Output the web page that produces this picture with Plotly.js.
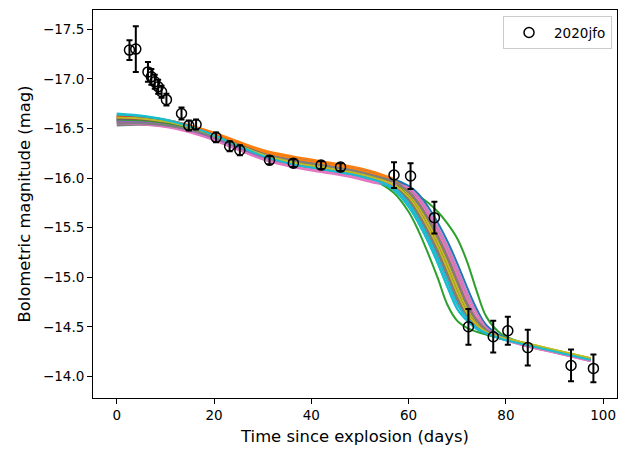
<!DOCTYPE html>
<html>
<head>
<meta charset="utf-8">
<script src="https://cdn.plot.ly/plotly-3.0.1.min.js"></script>
<style>html,body{margin:0;padding:0;background:#fff;}#chart{width:629px;height:449px;}</style>
</head>
<body>
<div id="chart"></div>
<script>
// Observed bolometric light curve of 2020jfo
const obsDays = [2.6, 3.9, 6.4, 7.1, 7.8, 8.5, 9.2, 10.2, 13.3, 14.8, 16.3, 20.4, 23.2, 25.3, 31.4, 36.3, 42.0, 46.0, 57.0, 60.4, 65.3, 72.3, 77.4, 80.4, 84.5, 93.4, 98.0];
const obsMags = [-17.29, -17.30, -17.07, -17.02, -16.97, -16.92, -16.87, -16.79, -16.65, -16.53, -16.54, -16.41, -16.32, -16.28, -16.18, -16.15, -16.13, -16.11, -16.03, -16.02, -15.60, -14.50, -14.40, -14.46, -14.29, -14.11, -14.08];
const obsErrs = [0.10, 0.23, 0.10, 0.08, 0.07, 0.07, 0.06, 0.06, 0.06, 0.05, 0.05, 0.05, 0.05, 0.05, 0.04, 0.04, 0.04, 0.04, 0.13, 0.13, 0.16, 0.18, 0.16, 0.14, 0.18, 0.16, 0.14];

// Model light curves (sampled at modelDays)
const modelDays = [0, 6, 12, 18, 24, 30, 36, 42, 48, 53, 57, 60, 62, 64, 66, 68, 70, 72, 74, 76, 79, 84, 90, 97.4];
const m0  = [-16.60, -16.588, -16.547, -16.465, -16.353, -16.242, -16.17, -16.12, -16.07, -16.01, -15.97, -15.88, -15.78, -15.63, -15.45, -15.25, -15.02, -14.78, -14.589, -14.481, -14.397, -14.329, -14.26, -14.175];
const m1  = [-16.58, -16.578, -16.547, -16.475, -16.373, -16.272, -16.21, -16.16, -16.11, -16.05, -15.99, -15.88, -15.78, -15.63, -15.45, -15.25, -15.02, -14.78, -14.589, -14.481, -14.397, -14.324, -14.255, -14.17];
const m2  = [-16.57, -16.567, -16.533, -16.46, -16.357, -16.253, -16.19, -16.14, -16.09, -16.03, -15.94, -15.88, -15.82, -15.75, -15.66, -15.54, -15.39, -15.16, -14.86, -14.60, -14.43, -14.33, -14.255, -14.17];
const m3  = [-16.63, -16.613, -16.567, -16.48, -16.363, -16.247, -16.17, -16.12, -16.07, -16.01, -15.95, -15.84, -15.71, -15.55, -15.36, -15.14, -14.90, -14.68, -14.539, -14.456, -14.39, -14.324, -14.255, -14.17];
const m4  = [-16.58, -16.568, -16.527, -16.445, -16.333, -16.222, -16.15, -16.10, -16.05, -15.99, -15.91, -15.78, -15.63, -15.45, -15.25, -15.02, -14.78, -14.612, -14.504, -14.441, -14.382, -14.324, -14.255, -14.17];
const m5  = [-16.62, -16.603, -16.557, -16.47, -16.353, -16.237, -16.16, -16.11, -16.06, -16.00, -15.945, -15.84, -15.71, -15.55, -15.36, -15.14, -14.90, -14.68, -14.539, -14.456, -14.39, -14.324, -14.255, -14.17];
const m6  = [-16.56, -16.547, -16.503, -16.42, -16.307, -16.193, -16.12, -16.07, -16.02, -15.96, -15.93, -15.88, -15.78, -15.63, -15.45, -15.25, -15.02, -14.78, -14.589, -14.475, -14.385, -14.309, -14.24, -14.155];
const m7  = [-16.54, -16.542, -16.513, -16.445, -16.347, -16.248, -16.19, -16.14, -16.09, -16.03, -15.96, -15.84, -15.71, -15.55, -15.36, -15.14, -14.90, -14.68, -14.539, -14.456, -14.39, -14.324, -14.255, -14.17];
const m8  = [-16.61, -16.595, -16.55, -16.465, -16.35, -16.235, -16.16, -16.11, -16.06, -16.00, -15.915, -15.78, -15.63, -15.45, -15.25, -15.02, -14.78, -14.612, -14.504, -14.441, -14.39, -14.336, -14.267, -14.182];
const m9  = [-16.64, -16.617, -16.563, -16.47, -16.347, -16.223, -16.14, -16.09, -16.04, -15.98, -15.88, -15.71, -15.55, -15.36, -15.14, -14.90, -14.68, -14.562, -14.479, -14.431, -14.38, -14.319, -14.25, -14.165];
const m10 = [-16.57, -16.565, -16.53, -16.455, -16.35, -16.245, -16.18, -16.13, -16.08, -16.02, -15.985, -15.92, -15.84, -15.71, -15.55, -15.36, -15.14, -14.90, -14.68, -14.516, -14.407, -14.329, -14.26, -14.175];
const m11 = [-16.60, -16.597, -16.563, -16.49, -16.387, -16.283, -16.22, -16.17, -16.12, -16.06, -15.975, -15.84, -15.71, -15.55, -15.36, -15.14, -14.90, -14.68, -14.539, -14.456, -14.39, -14.324, -14.255, -14.17];
const m12 = [-16.59, -16.573, -16.527, -16.44, -16.323, -16.207, -16.13, -16.08, -16.03, -15.97, -15.85, -15.66, -15.47, -15.24, -14.99, -14.72, -14.56, -14.49, -14.45, -14.42, -14.382, -14.324, -14.255, -14.17];
const m13 = [-16.56, -16.553, -16.517, -16.44, -16.333, -16.227, -16.16, -16.11, -16.06, -16.00, -15.915, -15.78, -15.63, -15.45, -15.25, -15.02, -14.78, -14.612, -14.504, -14.441, -14.382, -14.324, -14.255, -14.17];
const m14 = [-16.59, -16.577, -16.533, -16.45, -16.337, -16.223, -16.15, -16.10, -16.05, -15.99, -15.94, -15.84, -15.71, -15.55, -15.36, -15.14, -14.90, -14.68, -14.539, -14.456, -14.39, -14.324, -14.255, -14.17];
const m15 = [-16.61, -16.597, -16.553, -16.47, -16.357, -16.243, -16.17, -16.12, -16.07, -16.01, -15.92, -15.78, -15.63, -15.45, -15.25, -15.02, -14.78, -14.612, -14.504, -14.441, -14.382, -14.324, -14.255, -14.17];
const m16 = [-16.58, -16.562, -16.513, -16.425, -16.307, -16.188, -16.11, -16.06, -16.01, -15.95, -15.92, -15.84, -15.71, -15.55, -15.36, -15.14, -14.90, -14.68, -14.539, -14.45, -14.378, -14.309, -14.24, -14.155];
const m17 = [-16.53, -16.535, -16.51, -16.445, -16.35, -16.255, -16.20, -16.15, -16.10, -16.04, -15.935, -15.78, -15.63, -15.45, -15.25, -15.02, -14.78, -14.612, -14.504, -14.441, -14.382, -14.324, -14.255, -14.17];
const m18 = [-16.63, -16.61, -16.56, -16.47, -16.35, -16.23, -16.15, -16.10, -16.05, -15.99, -15.94, -15.84, -15.71, -15.55, -15.36, -15.14, -14.90, -14.68, -14.539, -14.456, -14.398, -14.336, -14.267, -14.182];
const m19 = [-16.65, -16.623, -16.567, -16.47, -16.343, -16.217, -16.13, -16.08, -16.03, -15.97, -15.88, -15.71, -15.55, -15.36, -15.14, -14.90, -14.68, -14.562, -14.479, -14.431, -14.38, -14.319, -14.25, -14.165];
const m20 = [-16.59, -16.582, -16.543, -16.465, -16.357, -16.248, -16.18, -16.13, -16.08, -16.02, -15.985, -15.90, -15.81, -15.67, -15.50, -15.305, -15.08, -14.84, -14.64, -14.498, -14.402, -14.324, -14.255, -14.17];
const m21 = [-16.61, -16.602, -16.563, -16.485, -16.377, -16.268, -16.20, -16.15, -16.10, -16.04, -15.975, -15.86, -15.745, -15.59, -15.405, -15.195, -14.96, -14.73, -14.564, -14.468, -14.393, -14.324, -14.255, -14.17];
const m22 = [-16.58, -16.572, -16.533, -16.455, -16.347, -16.238, -16.17, -16.12, -16.07, -16.01, -15.935, -15.81, -15.67, -15.50, -15.305, -15.08, -14.84, -14.64, -14.521, -14.448, -14.386, -14.324, -14.255, -14.17];
const m23 = [-16.62, -16.603, -16.557, -16.47, -16.353, -16.237, -16.16, -16.11, -16.06, -16.00, -15.93, -15.81, -15.67, -15.50, -15.305, -15.08, -14.84, -14.64, -14.521, -14.448, -14.386, -14.324, -14.255, -14.17];
const m24 = [-16.57, -16.558, -16.517, -16.435, -16.323, -16.212, -16.14, -16.09, -16.04, -15.98, -15.90, -15.745, -15.59, -15.405, -15.195, -14.96, -14.73, -14.587, -14.491, -14.436, -14.382, -14.324, -14.255, -14.17];
const m25 = [-16.60, -16.588, -16.547, -16.465, -16.353, -16.242, -16.17, -16.12, -16.07, -16.01, -15.96, -15.86, -15.745, -15.59, -15.405, -15.195, -14.96, -14.73, -14.564, -14.468, -14.393, -14.324, -14.255, -14.17];
const m26 = [-16.55, -16.538, -16.497, -16.415, -16.303, -16.192, -16.12, -16.07, -16.02, -15.96, -15.95, -15.90, -15.81, -15.67, -15.50, -15.305, -15.08, -14.84, -14.64, -14.49, -14.39, -14.309, -14.24, -14.155];
const m27 = [-16.55, -16.548, -16.517, -16.445, -16.343, -16.242, -16.18, -16.13, -16.08, -16.02, -15.965, -15.86, -15.745, -15.59, -15.405, -15.195, -14.96, -14.73, -14.564, -14.468, -14.393, -14.324, -14.255, -14.17];
const m28 = [-16.61, -16.595, -16.55, -16.465, -16.35, -16.235, -16.16, -16.11, -16.06, -16.00, -15.93, -15.81, -15.67, -15.50, -15.305, -15.08, -14.84, -14.64, -14.521, -14.448, -14.395, -14.336, -14.267, -14.182];
const m29 = [-16.64, -16.617, -16.563, -16.47, -16.347, -16.223, -16.14, -16.09, -16.04, -15.98, -15.90, -15.745, -15.59, -15.405, -15.195, -14.96, -14.73, -14.587, -14.491, -14.436, -14.38, -14.319, -14.25, -14.165];

const xTickVals = [0, 20, 40, 60, 80, 100];
const xTickText = ["0", "20", "40", "60", "80", "100"];
const yTickVals = [-17.5, -17.0, -16.5, -16.0, -15.5, -15.0, -14.5, -14.0];
const yTickText = ["\u221217.5", "\u221217.0", "\u221216.5", "\u221216.0", "\u221215.5", "\u221215.0", "\u221214.5", "\u221214.0"];

const palette = ["#1f77b4", "#ff7f0e", "#2ca02c", "#d62728", "#9467bd", "#8c564b", "#e377c2", "#7f7f7f", "#bcbd22", "#17becf"];
const models = [m0, m1, m2, m3, m4, m5, m6, m7, m8, m9, m10, m11, m12, m13, m14, m15, m16, m17, m18, m19,
                m20, m21, m22, m23, m24, m25, m26, m27, m28, m29];

const traces = models.map((ys, i) => ({
  x: modelDays, y: ys, type: "scatter", mode: "lines",
  line: {color: palette[i % 10], width: 2, shape: "spline"},
  showlegend: false, hoverinfo: "skip"
}));

traces.push({
  x: obsDays, y: obsMags, type: "scatter", mode: "markers", name: "2020jfo",
  marker: {symbol: "circle-open", size: 10, color: "black", line: {width: 1.5, color: "black"}},
  error_y: {type: "data", array: obsErrs, visible: true, color: "black", thickness: 2, width: 3}
});

const font = {family: "DejaVu Sans, sans-serif", color: "black"};
const layout = {
  width: 629, height: 449,
  margin: {l: 93, r: 12, t: 10, b: 51},
  paper_bgcolor: "white", plot_bgcolor: "white",
  font: Object.assign({size: 13.5}, font),
  xaxis: {
    range: [-4.9, 102.85], showgrid: false, zeroline: false,
    showline: true, mirror: true, linecolor: "black", linewidth: 1,
    ticks: "outside", ticklen: 5, tickwidth: 1, tickcolor: "black",
    tickmode: "array", tickvals: xTickVals, ticktext: xTickText,
    tickfont: Object.assign({size: 13.5}, font),
    title: {text: "Time since explosion (days)", font: Object.assign({size: 16.4}, font), standoff: 8}
  },
  yaxis: {
    range: [-13.782, -17.694], showgrid: false, zeroline: false,
    showline: true, mirror: true, linecolor: "black", linewidth: 1,
    ticks: "outside", ticklen: 5, tickwidth: 1, tickcolor: "black",
    tickmode: "array", tickvals: yTickVals, ticktext: yTickText,
    tickfont: Object.assign({size: 13.5}, font),
    title: {text: "Bolometric magnitude (mag)", font: Object.assign({size: 16.4}, font), standoff: 8}
  },
  showlegend: true,
  legend: {
    x: 0.9905, xanchor: "right", y: 0.984, yanchor: "top",
    bgcolor: "rgba(255,255,255,0.8)", bordercolor: "#cccccc", borderwidth: 1,
    itemwidth: 40,
    font: Object.assign({size: 13.5}, font)
  }
};

Plotly.newPlot("chart", traces, layout, {staticPlot: true, displayModeBar: false});
</script>
</body>
</html>
